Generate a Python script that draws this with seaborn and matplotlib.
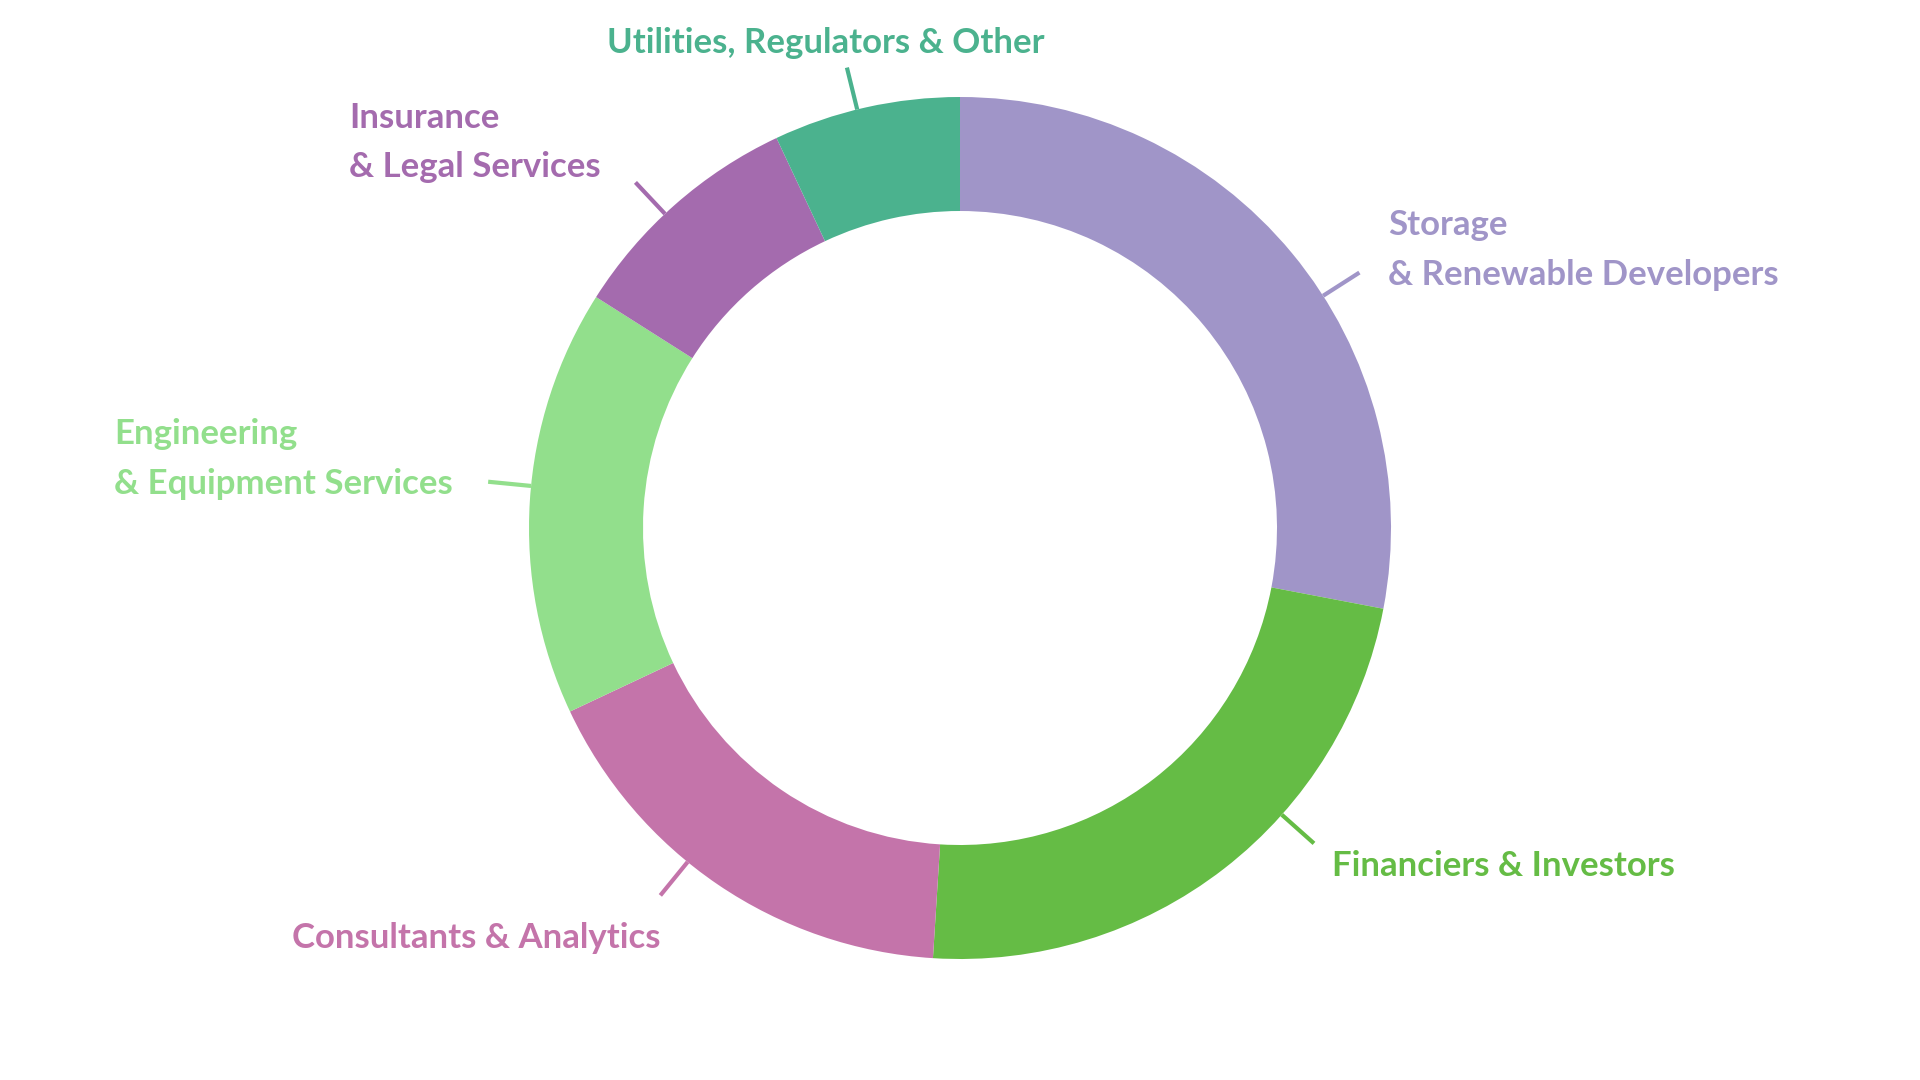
import numpy as np
import matplotlib.pyplot as plt
import seaborn as sns

# share of companies by segment (percent)
segments = [
    "Storage\n& Renewable Developers",
    "Financiers & Investors",
    "Consultants & Analytics",
    "Engineering\n& Equipment Services",
    "Insurance\n& Legal Services",
    "Utilities, Regulators & Other",
]
shares = [28, 23, 17, 16, 9, 7]
colors = ["#a095c8", "#65bc45", "#c474aa", "#92df8c", "#a46bae", "#4bb28e"]

sns.set_theme(style="white")
plt.rcParams["font.family"] = ["Lato", "DejaVu Sans"]

W, H = 1920, 1080
fig = plt.figure(figsize=(19.2, 10.8), dpi=100)
ax = fig.add_axes([0, 0, 1, 1])

cx, cy = 960, H - 528
R, r_in = 431, 317

wedges, _ = ax.pie(shares, colors=colors, startangle=90, counterclock=False,
                   radius=R, center=(cx, cy), frame=True,
                   wedgeprops=dict(width=R - r_in, linewidth=0))
ax.set_xlim(0, W)
ax.set_ylim(0, H)
ax.set_aspect("equal")
ax.axis("off")

# label layout: leader angle nudge (deg), offset of last baseline from line end (px)
nudge = [7, -10.5, 5, 2, -1.8, -1.2]
offs = [(29, 12), (18, 33), (0, 53), (-35, 12), (-35, -5), (-21, -15)]
haligns = ["left", "left", "right", "right", "right", "center"]

cum = np.cumsum([0] + shares)
for i, name in enumerate(segments):
    mid = (cum[i] + cum[i + 1]) / 2 / sum(shares) * 360 + nudge[i]
    t = np.deg2rad(mid)
    x0, y0 = cx + R * np.sin(t), cy + R * np.cos(t)
    x1, y1 = cx + 1.1 * R * np.sin(t), cy + 1.1 * R * np.cos(t)
    ax.plot([x0, x1], [y0, y1], color=colors[i], lw=3, solid_capstyle="butt")
    dx, dy = offs[i]
    ax.text(x1 + dx, y1 - dy, name, color=colors[i], fontsize=25,
            fontweight="bold", ha=haligns[i], va="baseline",
            multialignment="left", linespacing=1.68)

fig.savefig("out.png", dpi=100, facecolor="white")
